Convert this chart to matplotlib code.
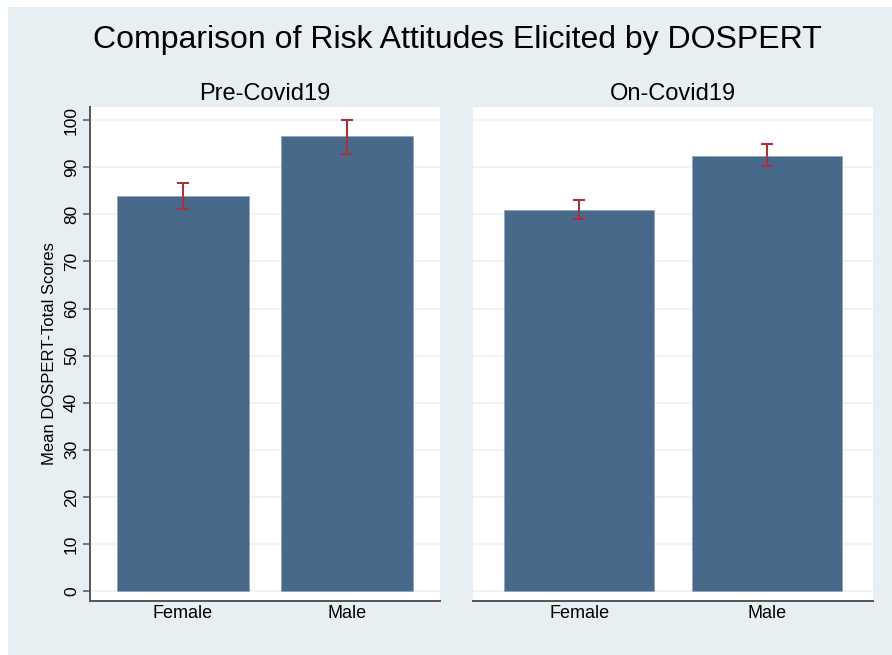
import matplotlib
matplotlib.use("Agg")
import matplotlib.pyplot as plt
from matplotlib.patches import Rectangle

plt.rcParams["font.family"] = ["Liberation Sans", "DejaVu Sans"]

# Data
categories = ["Female", "Male"]
panels = ["Pre-Covid19", "On-Covid19"]
means_pre = [83.9, 96.6]
ci_low_pre = [81.1, 92.9]
ci_high_pre = [86.7, 100.1]
means_on = [80.9, 92.5]
ci_low_on = [79.0, 90.3]
ci_high_on = [83.0, 94.9]
y_ticks = [0, 10, 20, 30, 40, 50, 60, 70, 80, 90, 100]

bar_color = "#48698A"
err_color = "#A3343F"
bg_color = "#E8EFF2"
grid_color = "#EEF4F6"
W, H = 892, 655

fig = plt.figure(figsize=(W / 100, H / 100), dpi=100, facecolor="white")
fig.patches.append(Rectangle((8 / W, 0), 1 - 8 / W, 1 - 7 / H,
                             transform=fig.transFigure, facecolor=bg_color,
                             edgecolor="none", zorder=-10))

def px_axes(x0, x1, y0, y1):
    return fig.add_axes([x0 / W, 1 - y1 / H, (x1 - x0) / W, (y1 - y0) / H])

ax_l = px_axes(90, 440, 107, 601)
ax_r = px_axes(473, 873, 107, 601)

data = [(means_pre, ci_low_pre, ci_high_pre), (means_on, ci_low_on, ci_high_on)]
xs = list(range(len(categories)))
for ax, title, (m, lo, hi) in zip([ax_l, ax_r], panels, data):
    ax.set_facecolor("white")
    ax.set_xlim(-0.565, 1.565)
    ax.set_ylim(-2.1, 102.8)
    for t in y_ticks:
        ax.axhline(t, color=grid_color, lw=1.4, zorder=0)
    ax.bar(xs, m, width=0.8, color=bar_color, edgecolor="#8FA7BD",
           linewidth=0.6, zorder=2)
    yerr = [[mi - l for mi, l in zip(m, lo)], [h - mi for mi, h in zip(m, hi)]]
    ax.errorbar(xs, m, yerr=yerr, fmt="none", ecolor=err_color, elinewidth=1.5,
                capsize=4.5, capthick=1.5, zorder=3)
    ax.set_xticks(xs)
    ax.set_xticklabels(categories, fontsize=13)
    ax.tick_params(axis="x", length=0, pad=3)
    for s in ["top", "right"]:
        ax.spines[s].set_visible(False)
    ax.spines["bottom"].set_color("#555555")
    ax.spines["bottom"].set_linewidth(1.4)
    ax.set_title(title, fontsize=17, pad=5)

ax_l.set_yticks(y_ticks)
ax_l.set_yticklabels([str(t) for t in y_ticks], fontsize=12.5, rotation=90, va="center")
ax_l.tick_params(axis="y", length=5, width=1.1, color="#555555", pad=3)
ax_l.spines["left"].set_color("#555555")
ax_l.spines["left"].set_linewidth(1.4)
ax_l.set_ylabel("Mean DOSPERT-Total Scores", fontsize=12, labelpad=5)

ax_r.spines["left"].set_visible(False)
ax_r.set_yticks([])

fig.text(457 / W, 1 - 40 / H, "Comparison of Risk Attitudes Elicited by DOSPERT",
         ha="center", va="center", fontsize=23)

fig.savefig("out.png", dpi=100, facecolor=fig.get_facecolor())
